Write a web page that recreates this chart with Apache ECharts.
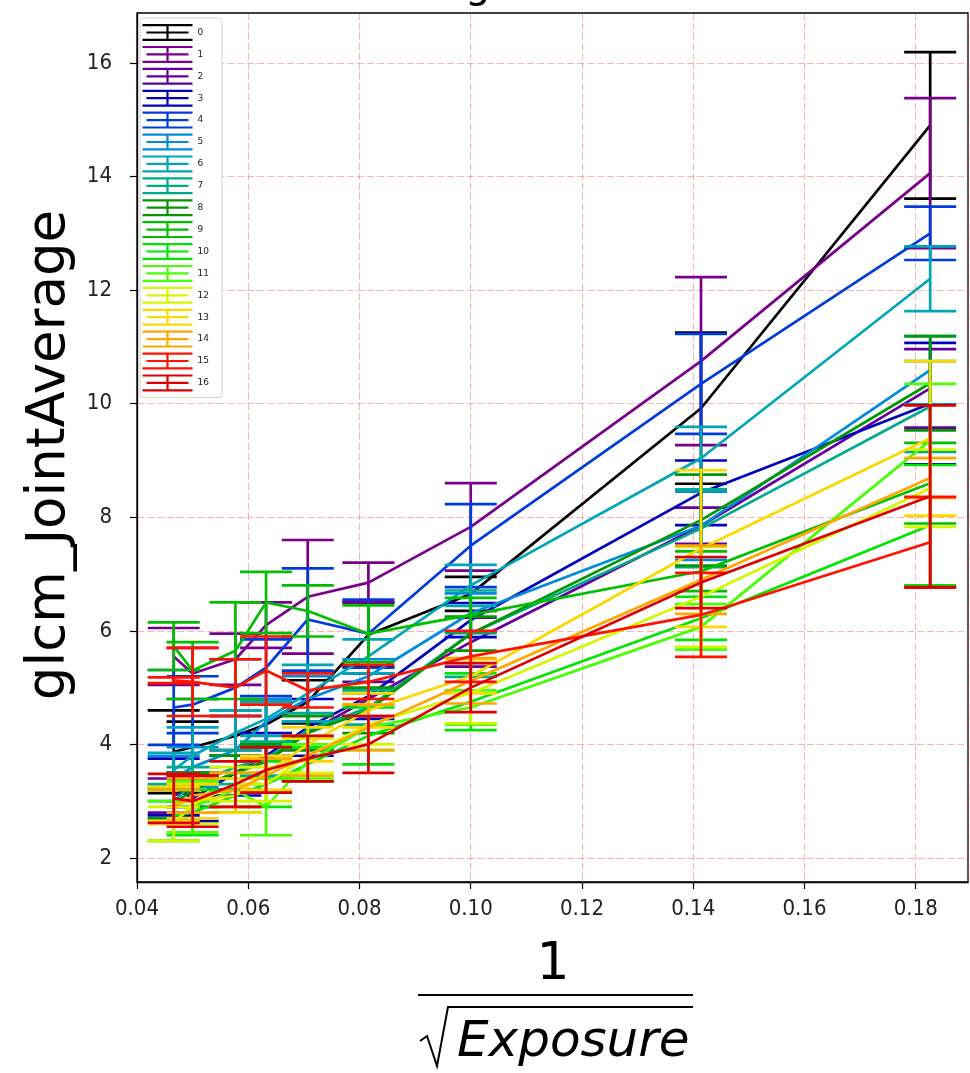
<!DOCTYPE html>
<html><head><meta charset="utf-8">
<script src="https://cdn.jsdelivr.net/npm/echarts@6/dist/echarts.min.js"></script>
<style>html,body{margin:0;padding:0;background:#fff}#c{width:970px;height:1073px}</style>
</head><body><div id="c"></div>
<script>
// x positions: 1/sqrt(Exposure)
const xValues = [0.0466, 0.05, 0.0577, 0.0632, 0.0707, 0.0816, 0.1, 0.1414, 0.1826];
const seriesNames = ['0','1','2','3','4','5','6','7','8','9','10','11','12','13','14','15','16'];
const xTicks = [0.04, 0.06, 0.08, 0.10, 0.12, 0.14, 0.16, 0.18];
const yTicks = [2, 4, 6, 8, 10, 12, 14, 16];

// means (m) and error half-widths (e) per series
const m0  = [3.87, 3.95, 4.15, 4.35, 4.75, 5.93, 6.65, 9.92, 14.90];
const e0  = [0.73, 0.45, 0.35, 0.40, 0.38, 0.57, 0.30, 1.33, 1.29];
const m1  = [5.55, 5.25, 5.50, 6.10, 6.60, 6.85, 7.83, 10.75, 14.06];
const e1  = [0.50, 0.45, 0.45, 0.40, 1.00, 0.35, 0.77, 1.48, 1.32];
const m2  = [3.10, 3.20, 3.50, 3.70, 4.20, 4.80, 5.80, 7.85, 10.27];
const e2  = [0.30, 0.30, 0.30, 0.30, 0.30, 0.30, 0.43, 0.32, 0.69];
const m3  = [3.25, 3.05, 3.50, 3.80, 4.30, 4.85, 6.19, 8.43, 10.00];
const e3  = [0.50, 0.40, 0.40, 0.40, 0.50, 0.40, 0.30, 0.57, 1.07];
const m4  = [4.65, 4.70, 5.00, 5.35, 6.20, 5.95, 7.50, 10.35, 13.00];
const e4  = [0.66, 0.50, 0.50, 0.50, 0.90, 0.60, 0.73, 0.88, 0.47];
const m5  = [3.40, 3.60, 3.90, 4.40, 4.80, 5.20, 6.31, 7.85, 10.59];
const e5  = [0.40, 0.35, 0.70, 0.40, 0.40, 0.30, 0.35, 0.60, 0.60];
const m6  = [3.55, 3.80, 4.20, 4.45, 4.90, 5.55, 6.80, 9.04, 12.20];
const e6  = [0.30, 0.50, 0.40, 0.30, 0.50, 0.30, 0.36, 0.55, 0.57];
const m7  = [3.00, 3.30, 3.60, 3.75, 4.25, 4.65, 5.95, 7.80, 9.95];
const e7  = [0.30, 0.30, 0.30, 0.30, 0.30, 0.30, 0.76, 0.68, 0.80];
const m8  = [2.95, 3.20, 3.50, 3.70, 4.20, 4.60, 5.95, 7.95, 10.36];
const e8  = [0.25, 0.30, 0.30, 0.30, 0.30, 0.40, 0.30, 0.80, 0.83];
const m9  = [5.73, 5.30, 5.65, 6.50, 6.35, 5.95, 6.28, 7.05, 8.60];
const e9  = [0.42, 0.50, 0.85, 0.54, 0.45, 0.50, 0.30, 0.35, 0.71];
const m10 = [2.75, 2.80, 3.10, 3.30, 3.65, 4.15, 4.75, 6.22, 7.86];
const e10 = [0.45, 0.40, 0.30, 0.40, 0.30, 0.50, 0.50, 0.38, 1.06];
const m11 = [2.65, 2.90, 3.20, 2.90, 3.70, 4.30, 4.65, 6.07, 9.35];
const e11 = [0.35, 0.45, 0.30, 0.50, 0.30, 0.40, 0.30, 0.40, 1.00];
const m12 = [2.60, 2.95, 3.30, 3.30, 3.80, 4.35, 4.90, 6.60, 8.51];
const e12 = [0.30, 0.35, 0.30, 0.30, 0.30, 0.35, 0.53, 0.88, 0.68];
const m13 = [2.95, 3.00, 3.10, 3.50, 4.00, 4.60, 5.20, 7.45, 9.39];
const e13 = [0.30, 0.30, 0.30, 0.30, 0.30, 0.30, 0.30, 1.38, 1.36];
const m14 = [2.90, 3.10, 3.20, 3.45, 3.80, 4.30, 5.12, 6.90, 8.69];
const e14 = [0.30, 0.30, 0.30, 0.30, 0.35, 0.40, 0.40, 0.60, 0.35];
const m15 = [5.13, 5.10, 5.00, 5.30, 4.95, 5.10, 5.55, 6.28, 7.56];
const e15 = [0.05, 0.60, 0.50, 0.60, 0.30, 0.30, 0.45, 0.74, 0.80];
const m16 = [3.05, 3.00, 3.30, 3.55, 3.75, 4.00, 5.00, 6.85, 8.37];
const e16 = [0.43, 0.45, 0.40, 0.40, 0.40, 0.50, 0.43, 0.45, 1.60];

const allMeans = [m0,m1,m2,m3,m4,m5,m6,m7,m8,m9,m10,m11,m12,m13,m14,m15,m16];
const allErrs  = [e0,e1,e2,e3,e4,e5,e6,e7,e8,e9,e10,e11,e12,e13,e14,e15,e16];

// nipy_spectral-like palette
const palette = ['#000000','#79008a','#66009d','#0000bd','#003cdd','#008cdd','#00a6b7','#00aa8c',
  '#009900','#00bf00','#00e600','#46ff00','#d4f700','#f9d900','#ffa600','#ff1300','#dd0000'];

const CAP = 26, LW = 2.7;
const series = [];
seriesNames.forEach((name, i) => {
  const color = palette[i];
  const means = allMeans[i], errs = allErrs[i];
  series.push({
    type: 'line', name: name, color: color,
    data: xValues.map((x, k) => [x, means[k]]),
    showSymbol: false, symbol: 'none', silent: true,
    lineStyle: { color: color, width: LW },
    z: 3 + i, animation: false
  });
  series.push({
    type: 'custom', name: name, color: color, silent: true, clip: true,
    data: xValues.map((x, k) => [x, means[k], errs[k]]),
    encode: { x: 0, y: 1 },
    z: 3 + i, animation: false,
    renderItem: function (params, api) {
      const x = api.value(0), m = api.value(1), e = api.value(2);
      const t = api.coord([x, m + e]), b = api.coord([x, m - e]);
      const st = { stroke: color, lineWidth: LW, fill: null };
      return { type: 'group', children: [
        { type: 'line', shape: { x1: t[0], y1: t[1], x2: b[0], y2: b[1] }, style: st },
        { type: 'line', shape: { x1: t[0]-CAP, y1: t[1], x2: t[0]+CAP, y2: t[1] }, style: st },
        { type: 'line', shape: { x1: b[0]-CAP, y1: b[1], x2: b[0]+CAP, y2: b[1] }, style: st }
      ]};
    }
  });
});

const chart = echarts.init(document.getElementById('c'), null, { renderer: 'canvas' });
const FONT = 'DejaVu Sans';
const CFONT = '"DejaVu Sans Condensed", "DejaVu Sans"';
chart.setOption({
  backgroundColor: '#fff',
  animation: false,
  textStyle: { fontFamily: FONT },
  grid: { left: 137, right: 2, top: 13, bottom: 191, show: true, borderColor: '#000', borderWidth: 1.3, containLabel: false },
  legend: {
    data: seriesNames, orient: 'vertical', left: 140, top: 18,
    itemWidth: 50, itemHeight: 17, itemGap: 4.9,
    icon: 'path://M0,0H50V2.2H0Z M4,7.4H46V9.6H4Z M0,14.8H50V17H0Z M23.9,0H26.1V17H23.9Z',
    itemStyle: { borderWidth: 0 },
    textStyle: { fontSize: 9, color: '#222', fontFamily: FONT },
    backgroundColor: '#fff', borderColor: '#d0d0d0', borderWidth: 1, borderRadius: 3,
    padding: [6, 13, 6, 2.5], selectedMode: false
  },
  xAxis: {
    type: 'value', min: 0.04, max: 0.1894, interval: 0.02,
    axisLine: { show: true, onZero: false, lineStyle: { color: '#000', width: 1.3 } },
    axisTick: { show: true, length: 7, lineStyle: { color: '#000', width: 1.2 } },
    axisLabel: { fontSize: 22, fontFamily: CFONT, color: '#222', margin: 16, showMaxLabel: false, showMinLabel: true,
      formatter: v => v.toFixed(2) },
    splitLine: { show: true, lineStyle: { color: 'rgba(255,0,0,0.3)', type: [7, 3], width: 1 } }
  },
  yAxis: {
    type: 'value', min: 1.577, max: 16.88,
    axisLine: { show: true, onZero: false, lineStyle: { color: '#000', width: 1.3 } },
    axisTick: { show: true, length: 7, customValues: yTicks, lineStyle: { color: '#000', width: 1.2 } },
    axisLabel: { fontSize: 22, fontFamily: CFONT, color: '#222', margin: 25, customValues: yTicks },
    splitLine: { show: true, lineStyle: { color: 'rgba(255,0,0,0.3)', type: [7, 3], width: 1 } }
  },
  graphic: [
    { type: 'text', left: 465, top: -33, silent: true,
      style: { text: 'g', fontSize: 40, fontFamily: FONT, fill: '#000' } },
    { type: 'text', x: 50, y: 455, rotation: Math.PI / 2, silent: true,
      style: { text: 'glcm_JointAverage', fontSize: 53, fontFamily: FONT, fill: '#000', align: 'center', verticalAlign: 'middle' } },
    { type: 'text', x: 553, y: 965, silent: true,
      style: { text: '1', fontSize: 52, fontFamily: FONT, fill: '#000', align: 'center', verticalAlign: 'middle' } },
    { type: 'line', silent: true, shape: { x1: 418, y1: 995, x2: 693, y2: 995 }, style: { stroke: '#000', lineWidth: 2 } },
    { type: 'polyline', silent: true,
      shape: { points: [[420, 1041], [427, 1036], [437, 1066], [448, 1007], [693, 1007]] },
      style: { stroke: '#000', lineWidth: 2, fill: null } },
    { type: 'text', x: 457, y: 1043, silent: true,
      style: { text: 'Exposure', fontSize: 50, fontStyle: 'italic', fontFamily: FONT, fill: '#000', align: 'left', verticalAlign: 'middle' } }
  ],
  series: series
});
</script></body></html>
